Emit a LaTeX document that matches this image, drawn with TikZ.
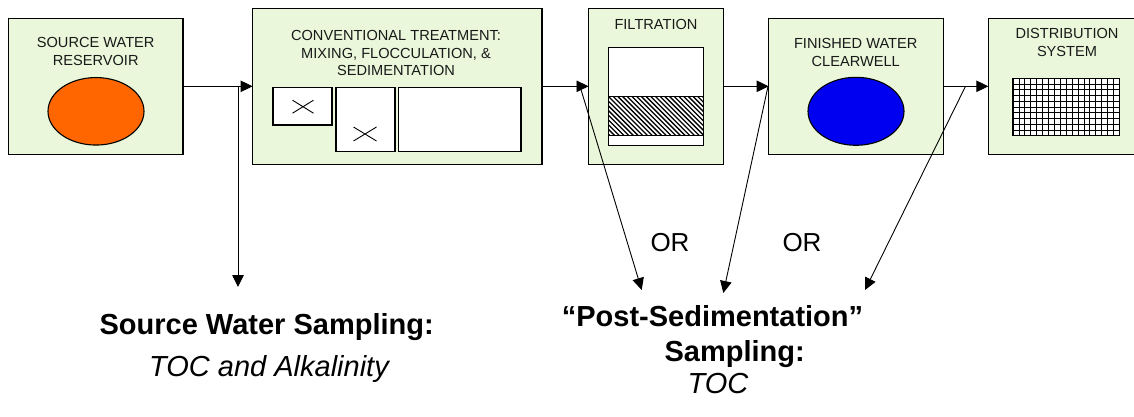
\documentclass[tikz,border=0pt]{standalone}
\usepackage{fontspec}
\setmainfont{Liberation Sans}
\usetikzlibrary{arrows.meta,shapes.geometric}
\definecolor{boxgreen}{RGB}{234,247,218}
\definecolor{reservoir}{RGB}{255,102,0}
\definecolor{clearwell}{RGB}{0,0,240}

\begin{document}
\begin{tikzpicture}[x=1pt,y=-1pt,
  stagebox/.style={rectangle,draw=black,line width=1.2pt,fill=boxgreen,inner sep=0pt,outer sep=0pt},
  unitbox/.style={rectangle,draw=black,line width=1.1pt,fill=white,inner sep=0pt,outer sep=0pt},
  tank/.style={ellipse,draw=black,line width=1.1pt,inner sep=0pt,outer sep=0pt},
  lbl/.style={font=\fontsize{14.6}{17.5}\selectfont,align=center,inner sep=0pt,text=black!90},
  big/.style={font=\fontsize{29}{34}\selectfont\bfseries,inner sep=0pt,anchor=base},
  note/.style={font=\fontsize{29}{34}\selectfont\itshape,inner sep=0pt,anchor=base},
  ortext/.style={font=\fontsize{26}{30}\selectfont,inner sep=0pt,anchor=base},
  flow/.style={line width=0.9pt,-{Triangle[length=12pt,width=11.5pt]}}]
\useasboundingbox (0,0) rectangle (1134,416);
\fill[white] (0,0) rectangle (1134,416);
\begin{scope}
\clip (0,0) rectangle (1134,416);

% process stages
\node[stagebox,minimum width=174.8pt,minimum height=136pt] (src) at (95.6,86.3) {};
\node[stagebox,minimum width=289.5pt,minimum height=156pt] (conv) at (397.3,86.3) {};
\node[stagebox,minimum width=135pt,minimum height=156pt] (filt) at (656,86.3) {};
\node[stagebox,minimum width=175pt,minimum height=136pt] (fin) at (856.1,86.3) {};
\node[stagebox,minimum width=158pt,minimum height=136pt] (dist) at (1067.3,86.3) {};

% stage titles
\node[lbl] (srct) at (95.7,51.7) {SOURCE WATER\\RESERVOIR};
\node[lbl] (convt) at (396,53.3) {CONVENTIONAL TREATMENT:\\MIXING, FLOCCULATION, \&\\SEDIMENTATION};
\node[lbl] (filtt) at (656,24) {FILTRATION};
\node[lbl] (fint) at (855.7,52.5) {FINISHED WATER\\CLEARWELL};
\node[lbl] (distt) at (1067,42.5) {DISTRIBUTION\\SYSTEM};

% reservoir and clearwell
\node[tank,fill=reservoir,minimum width=96pt,minimum height=67.5pt] (res) at (96,111.3) {};
\node[tank,fill=clearwell,minimum width=96pt,minimum height=68pt] (cw) at (856,111.3) {};

% mixing, flocculation and sedimentation basins
\node[unitbox,minimum width=59pt,minimum height=37.3pt] (mix) at (302.5,106.3) {};
\node[unitbox,minimum width=59pt,minimum height=64pt] (floc) at (365.5,119.7) {};
\node[unitbox,minimum width=122.4pt,minimum height=64pt] (sed) at (459.8,119.7) {};
\draw[line width=0.9pt] (292.5,100.2) -- (313.5,113.2) (292.5,113.2) -- (313.5,100.2);
\draw[line width=0.9pt] (353.5,127) -- (376.5,141) (353.5,141) -- (376.5,127);

% filter bed
\fill[white] (608.3,47.7) rectangle (703.8,145.3);
\begin{scope}
\clip (608.3,96.7) rectangle (703.8,135.7);
\foreach \i in {0,...,32}
  \draw[line width=1.3pt] (560+\i*4.7,95) -- ++(42,42);
\end{scope}
\draw[line width=1.1pt] (608.3,47.7) rectangle (703.8,145.3);
\draw[line width=1.1pt] (608.3,96.7) -- (703.8,96.7) (608.3,135.7) -- (703.8,135.7);

% distribution network
\fill[white] (1013,78.3) rectangle (1119.3,135.7);
\foreach \k in {1,...,17}
  \draw[line width=0.7pt] (1013+\k*5.906,78.3) -- (1013+\k*5.906,135.7);
\foreach \k in {1,...,9}
  \draw[line width=0.7pt] (1013,78.3+\k*5.74) -- (1119.3,78.3+\k*5.74);
\draw[line width=1.1pt] (1013,78.3) rectangle (1119.3,135.7);

% main flow
\draw[flow] (src.east) -- (conv.west);
\draw[flow] (conv.east) -- (filt.west);
\draw[flow] (filt.east) -- (fin.west);
\draw[flow] (fin.east) -- (dist.west);

% sampling points
\coordinate (tapsrc) at (238,86.3);
\coordinate (tipsrc) at (238,287);
\coordinate (tapa) at (580,86.3);
\coordinate (tipa) at (641.7,290);
\coordinate (tapb) at (768,86.3);
\coordinate (tipb) at (723.3,293);
\coordinate (tapc) at (965.5,86.3);
\coordinate (tipc) at (865,290);
\draw[flow] (tapsrc) -- (tipsrc);
\draw[flow] (tapa) -- (tipa);
\draw[flow] (tapb) -- (tipb);
\draw[flow] (tapc) -- (tipc);

\node[ortext] (or1) at (670,251.7) {OR};
\node[ortext] (or2) at (802,251.7) {OR};

% sampling notes
\node[big] (swhead) at (266.7,334) {Source Water Sampling:};
\node[note] (swnote) at (269,376.7) {TOC and Alkalinity};
\node[big] (pshead) at (712.5,326.7) {“Post-Sedimentation”};
\node[big] (pssub) at (734.7,361.7) {Sampling:};
\node[note] (psnote) at (718,393.3) {TOC};
\end{scope}
\end{tikzpicture}
\end{document}
